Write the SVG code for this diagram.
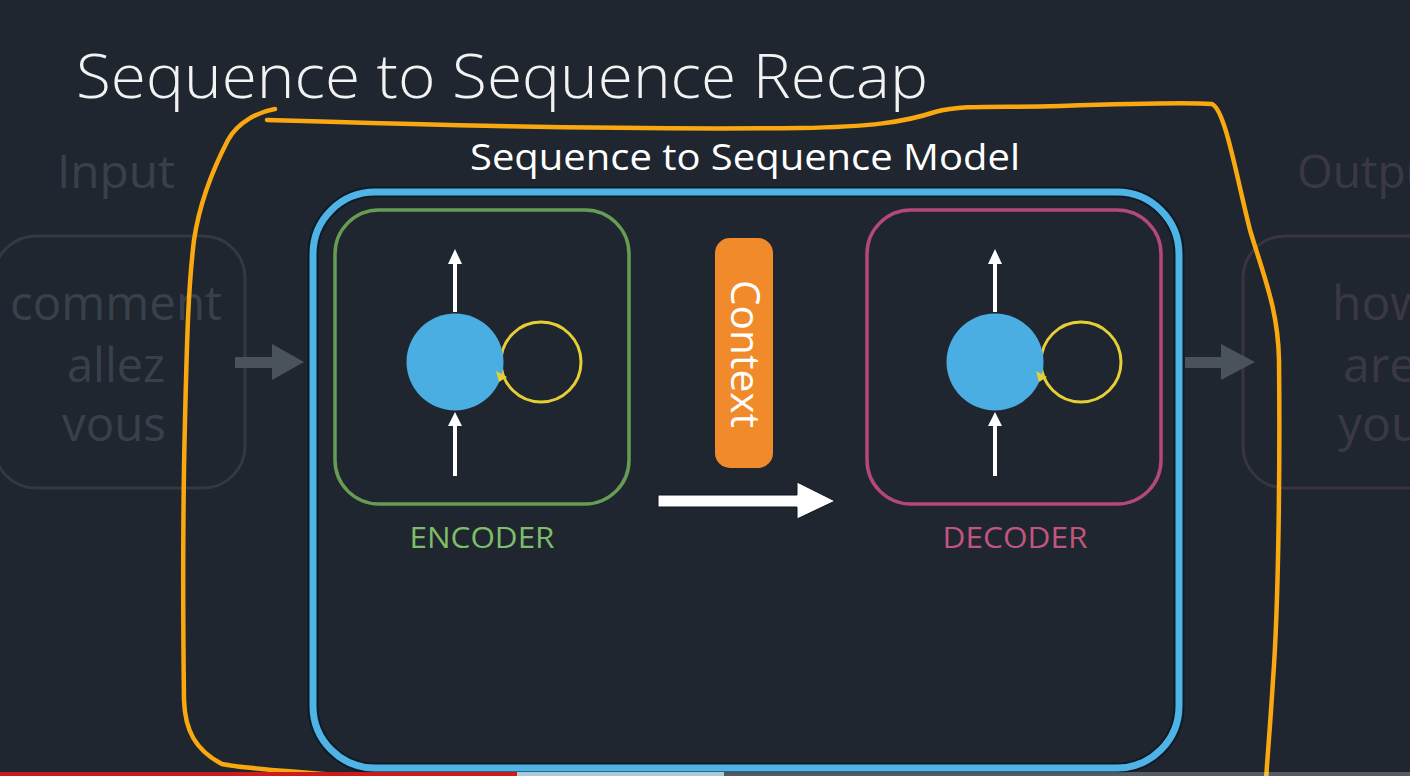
<svg xmlns="http://www.w3.org/2000/svg" width="1410" height="776" viewBox="0 0 1410 776">
<defs>
<style>
.t{font-family:"Open Sans","Noto Sans","Liberation Sans",sans-serif;font-weight:300}
.r{font-weight:400}
.faint{fill:#38414a}
.faintp{fill:#3b3843}
.warrow{stroke:#ffffff;stroke-width:4;fill:none}
.loop{fill:none;stroke:#e6cf35;stroke-width:3}
.cell{fill:#4aaee3}
</style>
</defs>
<rect width="1410" height="776" fill="#1f262f"/>

<text class="t" x="76" y="98" font-size="60" fill="#f2f2f2" textLength="852" lengthAdjust="spacingAndGlyphs">Sequence to Sequence Recap</text>

<g id="input">
<text class="t r faint" x="116" y="188" font-size="46" text-anchor="middle" textLength="118" lengthAdjust="spacingAndGlyphs">Input</text>
<rect x="-6" y="236" width="251" height="252" rx="42" fill="none" stroke="#323940" stroke-width="3"/>
<text class="t r faint" x="116" y="320" font-size="48" text-anchor="middle" textLength="212" lengthAdjust="spacingAndGlyphs">comment</text>
<text class="t r faint" x="116" y="382" font-size="48" text-anchor="middle" textLength="98" lengthAdjust="spacingAndGlyphs">allez</text>
<text class="t r faint" x="114" y="441" font-size="48" text-anchor="middle" textLength="104" lengthAdjust="spacingAndGlyphs">vous</text>
</g>

<g id="output">
<text class="t r faintp" x="1297" y="188" font-size="46">Output</text>
<rect x="1243" y="236" width="260" height="252" rx="42" fill="none" stroke="#3a3340" stroke-width="3"/>
<text class="t r faintp" x="1332" y="320" font-size="48">how</text>
<text class="t r faintp" x="1343" y="382" font-size="48">are</text>
<text class="t r faintp" x="1338" y="441" font-size="48">you</text>
</g>

<g id="connectors">
<path d="M235 357 H272 V344 L304 362 L272 380 V368 H235 Z" fill="#4a525c"/>
<path d="M1185 357 H1221 V344 L1255 362 L1221 380 V368 H1185 Z" fill="#4a525c"/>
<path d="M658 495 H797 V482 L835 501 L797 519 V507 H658 Z" fill="#ffffff" stroke="#0e151d" stroke-width="1"/>
</g>

<g id="model">
<text class="t r" x="745" y="170" font-size="36" fill="#ffffff" text-anchor="middle" textLength="550" lengthAdjust="spacingAndGlyphs">Sequence to Sequence Model</text>
<rect x="313" y="192" width="866" height="576" rx="62" fill="none" stroke="#0d1a28" stroke-width="11"/>
<rect x="313" y="192" width="866" height="576" rx="62" fill="none" stroke="#4fb3e5" stroke-width="7"/>
</g>

<g id="encoder">
<rect x="335" y="210" width="294" height="294" rx="44" fill="none" stroke="#679c55" stroke-width="3.5"/>
<circle class="loop" cx="541" cy="362" r="40"/>
<circle class="cell" cx="455" cy="362" r="48.5"/>
<path d="M496 371 L507 377 L499 382 Z" fill="#e6cf35"/>
<line class="warrow" x1="455" y1="312" x2="455" y2="262"/>
<path d="M448 264 L455 249 L462 264 Z" fill="#ffffff"/>
<line class="warrow" x1="455" y1="476" x2="455" y2="424"/>
<path d="M448 426 L455 412 L462 426 Z" fill="#ffffff"/>
<text class="t r" x="482" y="548" font-size="29" fill="#7dbd69" text-anchor="middle" textLength="145" lengthAdjust="spacingAndGlyphs">ENCODER</text>
</g>

<g id="context">
<rect x="715" y="238" width="58" height="230" rx="15" fill="#f08a2a"/>
<text class="t" font-size="40" fill="#ffffff" text-anchor="middle" textLength="148" lengthAdjust="spacingAndGlyphs" transform="translate(731 354) rotate(90)" x="0" y="0" style="font-weight:500">Context</text>
</g>

<g id="decoder">
<rect x="867" y="210" width="294" height="294" rx="44" fill="none" stroke="#b4487a" stroke-width="3.5"/>
<circle class="loop" cx="1081" cy="362" r="40"/>
<circle class="cell" cx="995" cy="362" r="48.5"/>
<path d="M1036 371 L1047 377 L1039 382 Z" fill="#e6cf35"/>
<line class="warrow" x1="995" y1="312" x2="995" y2="262"/>
<path d="M988 264 L995 249 L1002 264 Z" fill="#ffffff"/>
<line class="warrow" x1="995" y1="476" x2="995" y2="424"/>
<path d="M988 426 L995 412 L1002 426 Z" fill="#ffffff"/>
<text class="t r" x="1015" y="548" font-size="29" fill="#c0557f" text-anchor="middle" textLength="145" lengthAdjust="spacingAndGlyphs">DECODER</text>
</g>

<g id="annotation" fill="none" stroke="#f9a90f" stroke-width="4.5" stroke-linecap="round" stroke-linejoin="round">
<path d="M275 109 C258 112 238 122 228 140 C215 165 200 200 194 240 C188 290 187 340 185 420 C183 500 183 620 184 700 C185 730 195 750 222 764 C250 770 320 772 400 782"/>
<path d="M267 120 C400 124 600 130 800 128 C870 127 905 122 935 112 C965 104 1000 108 1060 106 C1120 104 1180 102 1212 104 C1225 110 1235 170 1250 230 C1265 280 1278 310 1279 360 C1280 450 1279 600 1273 680 C1270 730 1267 760 1266 782"/>
</g>

<g id="progress">
<rect x="0" y="772" width="517" height="4" fill="#cc1b1b"/>
<rect x="517" y="772" width="207" height="4" fill="#a9cbd8"/>
<rect x="724" y="772" width="686" height="4" fill="#ffffff" fill-opacity="0.25"/>
</g>
</svg>
